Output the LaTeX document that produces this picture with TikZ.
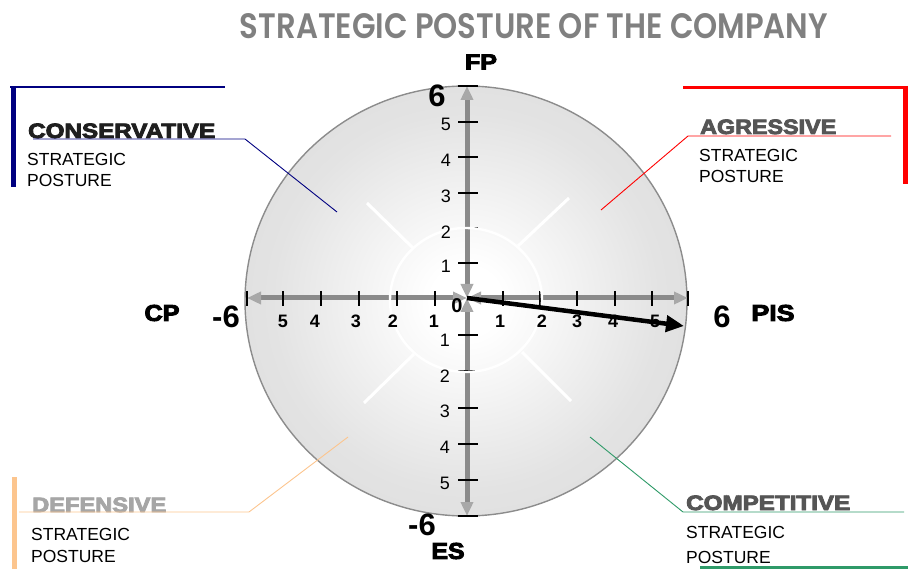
\documentclass[tikz,border=0pt]{standalone}
\usepackage{fontspec}
\setmainfont{Liberation Sans}
\newfontfamily\titlefont{Poppins SemiBold}
\newfontfamily\heavyfont{Liberation Sans Bold}[FakeBold=4]
\usetikzlibrary{arrows.meta}

\definecolor{axisgray}{HTML}{8A8A8A}
\definecolor{headgray}{HTML}{A8A8A8}
\definecolor{rimgray}{HTML}{8C8C8C}
\definecolor{titlegray}{HTML}{808080}
\definecolor{consblue}{HTML}{000080}
\definecolor{agrred}{HTML}{FF0000}
\definecolor{defpeach}{HTML}{FCC58E}
\definecolor{compgreen}{HTML}{2E9A68}
\definecolor{darklab}{HTML}{555555}
\definecolor{lightlab}{HTML}{A6A6A6}

% soft disc: white in the middle, light grey at the rim
\pgfdeclareradialshading{disk}{\pgfpointorigin}{%
  color(0bp)=(white); color(4bp)=(white); color(22bp)=(black!11);
  color(50bp)=(black!18)}

\tikzset{
  axisline/.style={draw=axisgray, line width=5pt,
    {Triangle[width=12pt,length=14pt,fill=headgray,color=headgray]}-{Triangle[width=12pt,length=14pt,fill=headgray,color=headgray]}},
  tickmark/.style={draw=black, line width=1.4pt},
  ray/.style={draw=white, line width=3pt},
  hlab/.style={font=\bfseries\fontsize{18}{18}\selectfont, inner sep=0pt},
  vlab/.style={font=\fontsize{18}{18}\selectfont, inner sep=0pt},
  endlab/.style={font=\bfseries\fontsize{31}{31}\selectfont, inner sep=0pt},
  axname/.style={inner sep=0pt},
  headlab/.style={anchor=base west, inner sep=0pt},
  sublab/.style={font=\fontsize{17.5}{21}\selectfont, anchor=base west, inner sep=0pt},
  leader/.style={line width=0.9pt},
}

\begin{document}
\begin{tikzpicture}[x=1pt,y=-1pt]
\useasboundingbox (0,0) rectangle (908,569);

% title
\node[inner sep=0pt, text=titlegray] (title) at (534,26)
  {\resizebox{588pt}{25pt}{\titlefont STRATEGIC POSTURE OF THE COMPANY}};

% the disc
\shade[shading=disk] (466,301) ellipse [x radius=221, y radius=215];
\draw[rimgray, line width=1.4pt] (466,301) ellipse [x radius=221, y radius=215];

% white rays between the quadrants
\draw[ray] (367,203) -- (413,248);
\draw[ray] (518,246) -- (569,198);
\draw[ray] (364,403) -- (414,354);
\draw[ray] (522,352) -- (571,401);

% axes
\coordinate (O) at (467,298);
\coordinate (L) at (247,298);
\coordinate (R) at (688,298);
\coordinate (T) at (467,86);
\coordinate (B) at (467,516);
\draw[axisline] (O) -- (L);
\draw[axisline] (O) -- (R);
\draw[axisline] (O) -- (T);
\draw[axisline] (O) -- (B);

% ticks on the horizontal axis
\foreach \x in {247,283,321,359,397,435,503,540,577,615,652,688}
  \draw[tickmark] (\x,291) -- (\x,306);
% ticks on the vertical axis
\foreach \y in {86,122,157,193,228,263,335,371,408,444,480,516}
  \draw[tickmark] (458,\y) -- (478,\y);

% inner white ring
\draw[white, line width=2.4pt] (466,300) ellipse [x radius=76, y radius=72];

% horizontal tick labels
\foreach \x/\v [count=\i] in {283/5,315/4,356/3,393/2,434/1}
  \node[hlab] (hl\i) at (\x,321) {\v};
\foreach \x/\v [count=\i] in {500/1,542/2,577/3,613/4,655/5}
  \node[hlab] (hr\i) at (\x,321) {\v};
% vertical tick labels
\foreach \y/\v [count=\i] in {124/5,160/4,196/3,232/2,266/1}
  \node[vlab] (vu\i) at (446,\y) {\v};
\foreach \y/\v [count=\i] in {340/1,376/2,411/3,447/4,483/5}
  \node[vlab] (vd\i) at (445,\y) {\v};

\node[font=\bfseries\fontsize{20}{20}\selectfont, inner sep=0pt] (zero) at (457,306) {0};
\node[endlab] (topsix) at (437,96) {6};
\node[endlab] (leftsix) at (226,317) {-6};
\node[endlab] (rightsix) at (722,317) {6};
\node[endlab] (botsix) at (422,525) {-6};

\node[axname] (FP) at (481,62) {\resizebox{32pt}{15pt}{\heavyfont FP}};
\node[axname] (ES) at (448,551) {\resizebox{33pt}{16pt}{\heavyfont ES}};
\node[axname] (CP) at (162,313) {\resizebox{35pt}{16pt}{\heavyfont CP}};
\node[axname] (PIS) at (773,313) {\resizebox{43pt}{16pt}{\heavyfont PIS}};

% resulting direction vector
\coordinate (P) at (684,326);
\draw[line width=4.5pt, -{Triangle[width=16pt,length=18pt]}] (O) -- (P);

% conservative corner
\draw[consblue, line width=5pt] (13,87) -- (13,187);
\draw[consblue, line width=2pt] (10,87) -- (225,87);
\coordinate (c1) at (33,139);
\coordinate (c2) at (245,139);
\coordinate (c3) at (337,212);
\node[headlab, text=black!88] (cons) at (28,138)
  {\resizebox{187pt}{14.5pt}{\heavyfont CONSERVATIVE}};
\draw[consblue, leader] (c1) -- (c2) -- (c3);
\node[sublab] (cons1) at (27,166) {STRATEGIC};
\node[sublab] (cons2) at (27,187) {POSTURE};

% aggressive corner
\draw[agrred, line width=3pt] (683,87.5) -- (905,87.5);
\draw[agrred, line width=5pt] (905,86) -- (905,184);
\coordinate (a1) at (601,210);
\coordinate (a2) at (688,136);
\coordinate (a3) at (891,136);
\node[headlab, text=darklab] (agr) at (700,134)
  {\resizebox{136pt}{14.5pt}{\heavyfont AGRESSIVE}};
\draw[agrred, leader] (a1) -- (a2) -- (a3);
\node[sublab] (agr1) at (699,162) {STRATEGIC};
\node[sublab] (agr2) at (699,183) {POSTURE};

% defensive corner
\draw[defpeach, line width=5pt] (14,477) -- (14,569);
\coordinate (d1) at (19,512);
\coordinate (d2) at (249,512);
\coordinate (d3) at (348,437);
\node[headlab, text=lightlab] (def) at (32,512)
  {\resizebox{134pt}{14.5pt}{\heavyfont DEFENSIVE}};
\draw[defpeach, leader] (d1) -- (d2) -- (d3);
\node[sublab] (def1) at (31,540) {STRATEGIC};
\node[sublab] (def2) at (31,562) {POSTURE};

% competitive corner
\coordinate (g1) at (590,437);
\coordinate (g2) at (683,512);
\coordinate (g3) at (904,512);
\node[headlab, text=darklab] (comp) at (686,510)
  {\resizebox{164pt}{14.5pt}{\heavyfont COMPETITIVE}};
\draw[compgreen, leader] (g1) -- (g2) -- (g3);
\node[sublab] (comp1) at (686,538) {STRATEGIC};
\node[sublab] (comp2) at (686,563) {POSTURE};
\draw[compgreen, line width=3pt] (700,567.5) -- (908,567.5);

\end{tikzpicture}
\end{document}
